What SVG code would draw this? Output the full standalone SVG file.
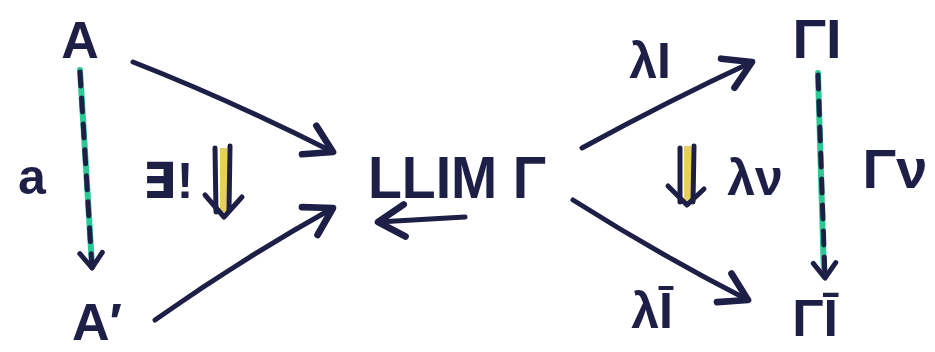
<svg xmlns="http://www.w3.org/2000/svg" width="935" height="352" viewBox="0 0 935 352">
<defs>
<style>
.t{font-family:"Liberation Sans","DejaVu Sans",sans-serif;fill:#1d1f47;font-weight:bold}
.e{fill:none;stroke:#1d1f47;stroke-width:5;stroke-linecap:round;stroke-linejoin:round}
.g{fill:none;stroke:#2ec796;stroke-width:6;stroke-linecap:round}
.d{fill:none;stroke:#1d1f47;stroke-width:5;stroke-dasharray:14 12;stroke-linecap:round}
</style>
<marker id="h" markerUnits="userSpaceOnUse" markerWidth="40" markerHeight="40" refX="0" refY="0" viewBox="-25 -15 30 30" orient="auto">
<path d="M-20,-12 L0,0 L-20,12" fill="none" stroke="#1d1f47" stroke-width="5" stroke-linecap="round" stroke-linejoin="round"/>
</marker>
<marker id="hs" markerUnits="userSpaceOnUse" markerWidth="30" markerHeight="30" refX="0" refY="0" viewBox="-20 -12 24 24" orient="auto">
<path d="M-12,-9 L0,0 L-12,9" fill="none" stroke="#1d1f47" stroke-width="4" stroke-linecap="round" stroke-linejoin="round"/>
</marker>
</defs>
<rect width="935" height="352" fill="#ffffff"/>
<g id="node-A"><text class="t" x="80" y="58" font-size="52" text-anchor="middle">A</text></g>
<g id="node-A2"><text class="t" x="97" y="340" font-size="52" text-anchor="middle">A′</text></g>
<g id="node-LLIM"><text class="t" x="368" y="198" font-size="60" textLength="178" lengthAdjust="spacingAndGlyphs">LLIM Γ</text></g>
<g id="node-GI"><text class="t" x="817" y="58" font-size="56" text-anchor="middle">ΓI</text></g>
<g id="node-GIbar"><text class="t" x="815" y="336" font-size="52" text-anchor="middle">ΓĪ</text></g>
<g id="connectors">
<path class="e" d="M133,62 Q230,100 333,152" marker-end="url(#h)"/>
<path class="e" d="M155,320 Q240,260 333,208" marker-end="url(#h)"/>
<path class="e" d="M465,217 L378,222" marker-end="url(#h)"/>
<path class="e" d="M582,148 Q670,100 752,62" marker-end="url(#h)"/>
<path class="e" d="M573,200 Q660,255 748,300" marker-end="url(#h)"/>
<path class="g" d="M80,70 L92,265"/>
<path class="d" d="M80,72 L92,268" marker-end="url(#hs)"/>
<path class="g" d="M818,73 L824,276"/>
<path class="d" d="M818,75 L825,278" marker-end="url(#hs)"/>
</g>
<g id="label-a"><text class="t" x="32" y="194" font-size="50" text-anchor="middle">a</text></g>
<g id="label-exists"><text class="t" x="168" y="198" font-size="50" text-anchor="middle">∃!</text></g>
<g id="twocell-left">
<rect x="220" y="148" width="7" height="64" fill="#e6cf5a"/>
<path class="e" d="M215,148 L216,212 M230,146 L229,210"/>
<path class="e" d="M205,195 L224,217 L242,197"/>
</g>
<g id="twocell-right">
<rect x="684" y="146" width="7" height="56" fill="#e6cf5a"/>
<path class="e" d="M680,148 L680,202 M694,146 L693,202"/>
<path class="e" d="M668,186 L687,205 L704,189"/>
</g>
<g id="label-lv"><text class="t" x="755" y="195" font-size="50" text-anchor="middle">λν</text></g>
<g id="label-Gv"><text class="t" x="895" y="188" font-size="56" text-anchor="middle">Γν</text></g>
<g id="label-lI"><text class="t" x="650" y="78" font-size="50" text-anchor="middle">λI</text></g>
<g id="label-lIbar"><text class="t" x="652" y="328" font-size="50" text-anchor="middle">λĪ</text></g>
</svg>
